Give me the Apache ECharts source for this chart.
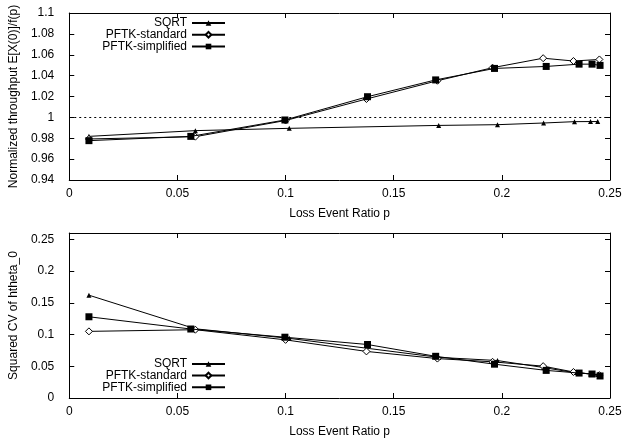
<!DOCTYPE html>
<html>
<head>
<meta charset="utf-8">
<script src="https://cdn.jsdelivr.net/npm/echarts@6/dist/echarts.min.js"></script>
<style>
html,body{margin:0;padding:0;background:#fff;}
#chart{width:635px;height:439px;}
</style>
</head>
<body>
<div id="chart"></div>
<script>
// Loss event ratio (x) for each series
const pSqrt = [0.0091, 0.0583, 0.1017, 0.1708, 0.198, 0.2193, 0.2336, 0.241, 0.2443];
const pStd  = [0.0091, 0.0583, 0.1, 0.1374, 0.1702, 0.1957, 0.2191, 0.2331, 0.2451];
const pSimp = [0.0091, 0.0562, 0.0997, 0.1379, 0.1694, 0.1966, 0.2205, 0.2357, 0.2417, 0.2454];

// Top panel: normalized throughput
const thrSqrt = [0.9818, 0.9873, 0.9895, 0.9923, 0.993, 0.9946, 0.9959, 0.996, 0.996];
const thrStd  = [0.9793, 0.9815, 0.997, 1.0176, 1.0351, 1.0476, 1.0567, 1.054, 1.0555];
const thrSimp = [0.9777, 0.9818, 0.9975, 1.0198, 1.0359, 1.0469, 1.0488, 1.051, 1.051, 1.0498];

// Bottom panel: squared CV
const cvSqrt = [0.162, 0.109, 0.094, 0.064, 0.059, 0.048, 0.040, 0.038, 0.037];
const cvStd  = [0.105, 0.1076, 0.0916, 0.0734, 0.0621, 0.057, 0.0502, 0.041, 0.036];
const cvSimp = [0.128, 0.1087, 0.0958, 0.0843, 0.0657, 0.0533, 0.0435, 0.0393, 0.0378, 0.0347];

const seriesNames = ['SQRT', 'PFTK-standard', 'PFTK-simplified'];
const xTitle = 'Loss Event Ratio p';
const yTitleTop = 'Normalized throughput E[X(0)]/f(p)';
const yTitleBottom = 'Squared CV of htheta_0';

const FONT = 'Liberation Sans, Arial, sans-serif';
function pairs(xs, ys) { return xs.map((x, i) => [x, ys[i]]); }

const axLine = { show: true, onZero: false, lineStyle: { color: '#000', width: 1 } };
const tickIn = { show: true, inside: true, length: 5, lineStyle: { color: '#000' } };
const lbl = { color: '#000', fontFamily: FONT, fontSize: 12 };

function xAxes(g) {
  return [
    { gridIndex: g, type: 'value', min: 0, max: 0.25, interval: 0.05, position: 'bottom',
      name: xTitle, nameLocation: 'middle', nameGap: 28, nameTextStyle: lbl,
      axisLine: axLine, axisTick: tickIn, splitLine: { show: false },
      axisLabel: Object.assign({ margin: 8 }, lbl) },
    { gridIndex: g, type: 'value', min: 0, max: 0.25, interval: 0.05, position: 'top',
      axisLine: axLine, axisTick: tickIn, splitLine: { show: false }, axisLabel: { show: false } }
  ];
}
function yAxes(g, min, max, interval, title) {
  return [
    { gridIndex: g, type: 'value', min: min, max: max, interval: interval, position: 'left',
      name: title, nameLocation: 'middle', nameGap: 38, nameTextStyle: lbl,
      axisLine: axLine, axisTick: tickIn, splitLine: { show: false },
      axisLabel: Object.assign({ margin: 15, showMaxLabel: max === 1.1 }, lbl) },
    { gridIndex: g, type: 'value', min: min, max: max, interval: interval, position: 'right',
      axisLine: axLine, axisTick: tickIn, splitLine: { show: false }, axisLabel: { show: false } }
  ];
}

const styles = [
  { symbol: 'triangle', symbolSize: 5, itemStyle: { color: '#000', borderColor: '#000', borderWidth: 0 } },
  { symbol: 'diamond', symbolSize: 7, itemStyle: { color: '#fff', borderColor: '#000', borderWidth: 1 } },
  { symbol: 'rect', symbolSize: 7, itemStyle: { color: '#000', borderColor: '#000', borderWidth: 0 } }
];

function mkSeries(name, idx, xi, yi, data) {
  return Object.assign({
    name: name, type: 'line', xAxisIndex: xi, yAxisIndex: yi, data: data,
    showAllSymbol: true, lineStyle: { color: '#000', width: 1 }, z: 3 + idx
  }, styles[idx]);
}

const series = [
  mkSeries(seriesNames[0], 0, 0, 0, pairs(pSqrt, thrSqrt)),
  mkSeries(seriesNames[1], 1, 0, 0, pairs(pStd, thrStd)),
  mkSeries(seriesNames[2], 2, 0, 0, pairs(pSimp, thrSimp)),
  mkSeries(seriesNames[0], 0, 2, 2, pairs(pSqrt, cvSqrt)),
  mkSeries(seriesNames[1], 1, 2, 2, pairs(pStd, cvStd)),
  mkSeries(seriesNames[2], 2, 2, 2, pairs(pSimp, cvSimp))
];
series[0].markLine = {
  silent: true, symbol: ['none', 'none'], label: { show: false },
  lineStyle: { color: '#000', type: [2, 3], width: 1 },
  data: [{ yAxis: 1 }]
};

function legendItem(name, top) {
  return {
    data: [name], orient: 'vertical', align: 'right', right: 409, top: top,
    itemWidth: 33, itemHeight: 7, padding: 0, selectedMode: false,
    textStyle: lbl
  };
}
const legendTops = [24, 35.7, 47.5];
const legendBottoms = [365, 376.5, 388.3];
const legends = [];
seriesNames.forEach((n, i) => legends.push(legendItem(n, legendTops[i] - 7)));
seriesNames.forEach((n, i) => legends.push(legendItem(n, legendBottoms[i] - 7)));

const chart = echarts.init(document.getElementById('chart'), null, { renderer: 'canvas' });
chart.setOption({
  animation: false,
  backgroundColor: '#fff',
  textStyle: { fontFamily: FONT },
  grid: [
    { left: 68, top: 13, width: 542, height: 167 },
    { left: 68, top: 233, width: 542, height: 167 }
  ],
  legend: legends,
  xAxis: xAxes(0).concat(xAxes(1)),
  yAxis: yAxes(0, 0.94, 1.1, 0.02, yTitleTop).concat(yAxes(1, 0, 0.26, 0.05, yTitleBottom)),
  series: series
});
</script>
</body>
</html>
